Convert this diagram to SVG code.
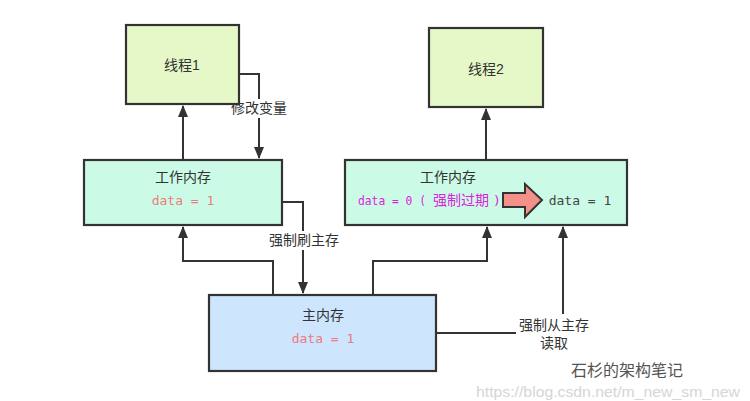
<svg xmlns="http://www.w3.org/2000/svg" width="750" height="401" viewBox="0 0 750 401">
<style>
.box{stroke:#333;stroke-width:2.2}
.t{font-family:"Liberation Sans","Noto Sans CJK SC",sans-serif;font-size:14px;fill:#333;text-anchor:middle}
.d{font-family:"DejaVu Sans Mono",monospace;font-size:13px;text-anchor:middle}
.m{font-family:"DejaVu Sans Mono",monospace;font-size:13px;fill:#dd22dd}
.c{fill:none;stroke:#333;stroke-width:2}
</style>
<defs>
<marker id="ah" viewBox="0 0 12 12" refX="11" refY="6" markerWidth="12" markerHeight="12" markerUnits="userSpaceOnUse" orient="auto">
<path d="M0,1 L12,6 L0,11 Z" fill="#333"/>
</marker>
</defs>
<rect width="750" height="401" fill="#fff"/>
<g id="connectors">
<path class="c" d="M183,160 V106" marker-end="url(#ah)"/>
<path class="c" d="M239,74 H259 V158" marker-end="url(#ah)"/>
<path class="c" d="M282,202 H303 V293" marker-end="url(#ah)"/>
<path class="c" d="M273,295 V261 H183 V227" marker-end="url(#ah)"/>
<path class="c" d="M373,295 V261 H487 V227" marker-end="url(#ah)"/>
<path class="c" d="M486,160 V109" marker-end="url(#ah)"/>
<path class="c" d="M436,333 H516"/>
<path class="c" d="M563,314 V227" marker-end="url(#ah)"/>
<rect x="229" y="99" width="60" height="19" fill="#fff"/>
<text class="t" x="259" y="113">修改变量</text>
<rect x="267" y="231" width="74" height="19" fill="#fff"/>
<text class="t" x="304" y="245">强制刷主存</text>
<text class="t" x="554" y="330">强制从主存</text>
<text class="t" x="554" y="348">读取</text>
</g>
<g id="thread1">
<rect class="box" x="126" y="25" width="113" height="79" fill="#e6f8c8"/>
<text class="t" x="182" y="70">线程1</text>
</g>
<g id="thread2">
<rect class="box" x="429" y="28" width="114" height="79" fill="#e6f8c8"/>
<text class="t" x="486" y="74">线程2</text>
</g>
<g id="wm1">
<rect class="box" x="84" y="160" width="198" height="65" fill="#cbfbe6"/>
<text class="t" x="183" y="182">工作内存</text>
<text class="d" x="183" y="205" fill="#ee7b7b">data = 1</text>
</g>
<g id="wm2">
<rect class="box" x="345" y="160" width="282" height="65" fill="#cbfbe6"/>
<text class="t" x="448" y="182">工作内存</text>
<text class="m" x="358" y="205" textLength="68" lengthAdjust="spacingAndGlyphs">data = 0 (</text>
<text x="433" y="205" font-family="Noto Sans CJK SC, sans-serif" font-size="14" fill="#dd22dd">强制过期</text>
<text class="m" x="493" y="205">)</text>
<path d="M503,193 H525 V184 L542,200 L525,217 V207 H503 Z" fill="#f4908a" stroke="#333" stroke-width="2" stroke-linejoin="miter"/>
<text class="d" x="580" y="205" fill="#444">data = 1</text>
</g>
<g id="main">
<rect class="box" x="209" y="295" width="227" height="76" fill="#cde5fd"/>
<text class="t" x="323" y="320">主内存</text>
<text class="d" x="323" y="343" fill="#ee7b7b">data = 1</text>
</g>
<g id="watermark">
<text x="627" y="376" font-family="Noto Sans CJK SC, sans-serif" font-size="16" fill="#555" text-anchor="middle">石杉的架构笔记</text>
<text x="476" y="397" font-family="Liberation Sans, sans-serif" font-size="14" fill="#ccc" textLength="264" lengthAdjust="spacingAndGlyphs" opacity="0.8">https://blog.csdn.net/m_new_sm_new</text>
</g>
</svg>
